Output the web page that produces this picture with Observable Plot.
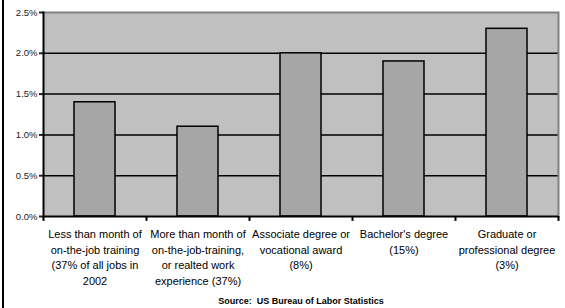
<!DOCTYPE html>
<html>
<head>
<meta charset="utf-8">
<script src="https://cdn.jsdelivr.net/npm/d3@7"></script>
<script src="https://cdn.jsdelivr.net/npm/@observablehq/plot@0.6"></script>
<style>
  html, body { margin: 0; padding: 0; background: white; }
  #wrap { position: relative; width: 565px; height: 308px; overflow: hidden; }
  #edge { position: absolute; left: 2px; top: 0; width: 2px; height: 308px; background: black; }
</style>
</head>
<body>
<div id="wrap"><div id="edge"></div></div>
<script>
const categories = ["A", "B", "C", "D", "E"];
const labels = [
  "Less than month of\non-the-job training\n(37% of all jobs in\n2002",
  "More than month of\non-the-job-training,\nor realted work\nexperience (37%)",
  "Associate degree or\nvocational award\n(8%)",
  "Bachelor's degree\n(15%)",
  "Graduate or\nprofessional degree\n(3%)"
];
const values = [1.4, 1.1, 2.0, 1.9, 2.3];
const yTicks = [0, 0.5, 1.0, 1.5, 2.0, 2.5];
const gridTicks = [0.5, 1.0, 1.5, 2.0];
const source = "Source:  US Bureau of Labor Statistics";

const data = categories.map((c, i) => ({cat: c, value: values[i], label: labels[i]}));

const chart = Plot.plot({
  width: 565,
  height: 308,
  marginTop: 12,
  marginLeft: 43,
  marginRight: 7,
  marginBottom: 92,
  style: {background: "white", fontFamily: "'Liberation Sans', Arial, sans-serif", overflow: "visible"},
  x: {domain: categories, padding: 0, axis: null},
  y: {domain: [0, 2.5], axis: null},
  marks: [
    Plot.frame({fill: "#c0c0c0", stroke: null}),
    Plot.ruleY(gridTicks, {stroke: "black", strokeWidth: 1.5}),
    Plot.ruleY([2.5], {stroke: "#808080", strokeWidth: 2}),
    Plot.frame({anchor: "right", stroke: "#808080", strokeWidth: 2}),
    Plot.barY(data, {x: "cat", y: "value", fill: "#a6a6a6", stroke: "black", strokeWidth: 1.5, insetLeft: 31, insetRight: 31}),
    Plot.axisY({ticks: yTicks, tickFormat: d => d.toFixed(1) + "%", tickSize: 4, tickPadding: 2, fontSize: 9.5, color: "#222", strokeWidth: 2, label: null}),
    Plot.ruleY([0], {stroke: "black", strokeWidth: 2}),
    Plot.frame({anchor: "left", stroke: "black", strokeWidth: 2}),
    Plot.ruleX(categories, {x: d => d, y1: 0, y2: -0.06, dx: -51.5, stroke: "black", strokeWidth: 2}),
    Plot.ruleX([categories[categories.length - 1]], {x: d => d, y1: 0, y2: -0.06, dx: 51.5, stroke: "black", strokeWidth: 2}),
    Plot.text(data, {x: "cat", text: "label", frameAnchor: "bottom", lineAnchor: "top", dy: 11, fontSize: 11, lineHeight: 1.4, fill: "black"}),
    Plot.text([source], {frameAnchor: "bottom", lineAnchor: "middle", dy: 85, fontSize: 9, fontWeight: "bold", fill: "black"})
  ]
});
document.getElementById("wrap").appendChild(chart);
</script>
</body>
</html>
